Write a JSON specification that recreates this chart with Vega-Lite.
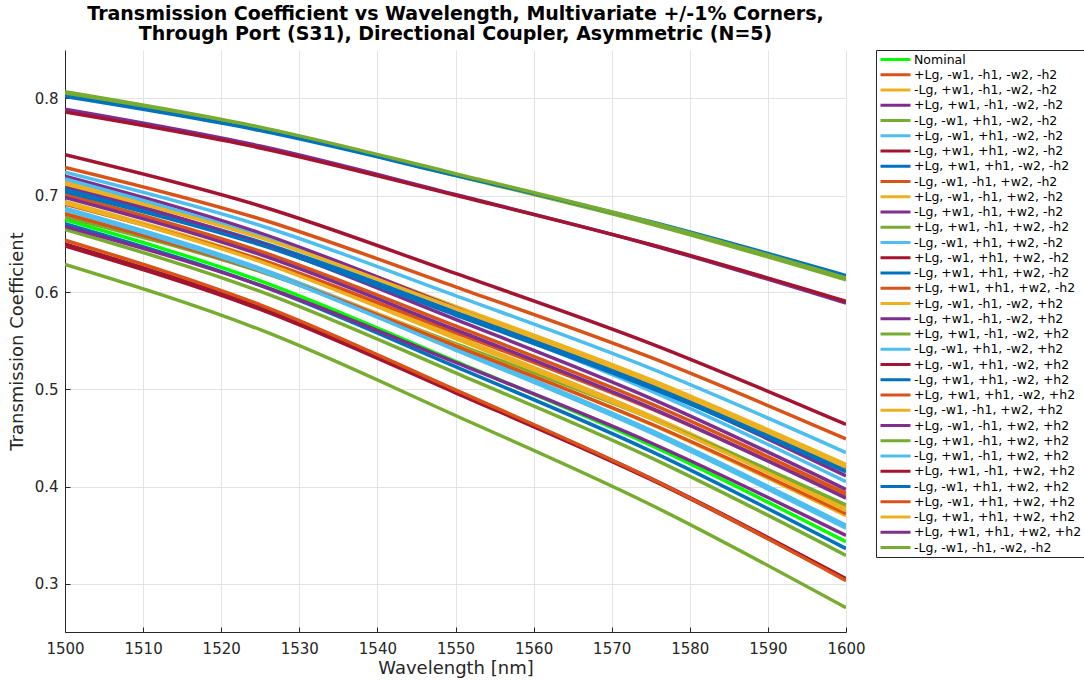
{
  "$schema": "https://vega.github.io/schema/vega-lite/v6.json",
  "autosize": {"type": "none"},
  "width": 781,
  "height": 582,
  "padding": {"left": 65, "top": 50, "right": 238, "bottom": 50},
  "background": "white",
  "title": {
    "text": ["Transmission Coefficient vs Wavelength, Multivariate +/-1% Corners,", "Through Port (S31), Directional Coupler, Asymmetric (N=5)"],
    "anchor": "middle",
    "frame": "group",
    "font": "DejaVu Sans",
    "fontSize": 19,
    "fontWeight": "bold",
    "color": "#000000",
    "lineHeight": 20,
    "offset": 6
  },
  "config": {
    "view": {"stroke": null},
    "axis": {
      "labelFont": "DejaVu Sans",
      "labelFontSize": 15,
      "labelColor": "#262626",
      "titleFont": "DejaVu Sans",
      "titleFontSize": 18,
      "titleFontWeight": "normal",
      "titleColor": "#262626",
      "domainColor": "#262626",
      "tickColor": "#262626",
      "gridColor": "#e3e3e3",
      "gridOpacity": 1,
      "labelFlush": false
    },
    "legend": {
      "labelFont": "DejaVu Sans",
      "labelFontSize": 12.5,
      "labelColor": "#000000"
    }
  },
  "data": {"values": [
    {"s":"Nominal","w":1500,"t":0.675},{"s":"Nominal","w":1525,"t":0.6119},{"s":"Nominal","w":1550,"t":0.5289},{"s":"Nominal","w":1575,"t":0.4426},{"s":"Nominal","w":1600,"t":0.343},
    {"s":"+Lg, -w1, -h1, -w2, -h2","w":1500,"t":0.729},{"s":"+Lg, -w1, -h1, -w2, -h2","w":1525,"t":0.6758},{"s":"+Lg, -w1, -h1, -w2, -h2","w":1550,"t":0.6058},{"s":"+Lg, -w1, -h1, -w2, -h2","w":1575,"t":0.533},{"s":"+Lg, -w1, -h1, -w2, -h2","w":1600,"t":0.449},
    {"s":"-Lg, +w1, -h1, -w2, -h2","w":1500,"t":0.714},{"s":"-Lg, +w1, -h1, -w2, -h2","w":1525,"t":0.6587},{"s":"-Lg, +w1, -h1, -w2, -h2","w":1550,"t":0.5858},{"s":"-Lg, +w1, -h1, -w2, -h2","w":1575,"t":0.5101},{"s":"-Lg, +w1, -h1, -w2, -h2","w":1600,"t":0.4227},
    {"s":"+Lg, +w1, -h1, -w2, -h2","w":1500,"t":0.789},{"s":"+Lg, +w1, -h1, -w2, -h2","w":1525,"t":0.751},{"s":"+Lg, +w1, -h1, -w2, -h2","w":1550,"t":0.701},{"s":"+Lg, +w1, -h1, -w2, -h2","w":1575,"t":0.649},{"s":"+Lg, +w1, -h1, -w2, -h2","w":1600,"t":0.589},
    {"s":"-Lg, -w1, +h1, -w2, -h2","w":1500,"t":0.805},{"s":"-Lg, -w1, +h1, -w2, -h2","w":1525,"t":0.7685},{"s":"-Lg, -w1, +h1, -w2, -h2","w":1550,"t":0.7205},{"s":"-Lg, -w1, +h1, -w2, -h2","w":1575,"t":0.6706},{"s":"-Lg, -w1, +h1, -w2, -h2","w":1600,"t":0.613},
    {"s":"+Lg, -w1, +h1, -w2, -h2","w":1500,"t":0.724},{"s":"+Lg, -w1, +h1, -w2, -h2","w":1525,"t":0.6691},{"s":"+Lg, -w1, +h1, -w2, -h2","w":1550,"t":0.5968},{"s":"+Lg, -w1, +h1, -w2, -h2","w":1575,"t":0.5217},{"s":"+Lg, -w1, +h1, -w2, -h2","w":1600,"t":0.435},
    {"s":"-Lg, +w1, +h1, -w2, -h2","w":1500,"t":0.786},{"s":"-Lg, +w1, +h1, -w2, -h2","w":1525,"t":0.749},{"s":"-Lg, +w1, +h1, -w2, -h2","w":1550,"t":0.7002},{"s":"-Lg, +w1, +h1, -w2, -h2","w":1575,"t":0.6495},{"s":"-Lg, +w1, +h1, -w2, -h2","w":1600,"t":0.591},
    {"s":"+Lg, +w1, +h1, -w2, -h2","w":1500,"t":0.802},{"s":"+Lg, +w1, +h1, -w2, -h2","w":1525,"t":0.7669},{"s":"+Lg, +w1, +h1, -w2, -h2","w":1550,"t":0.7208},{"s":"+Lg, +w1, +h1, -w2, -h2","w":1575,"t":0.6729},{"s":"+Lg, +w1, +h1, -w2, -h2","w":1600,"t":0.6175},
    {"s":"-Lg, -w1, -h1, +w2, -h2","w":1500,"t":0.701},{"s":"-Lg, -w1, -h1, +w2, -h2","w":1525,"t":0.6425},{"s":"-Lg, -w1, -h1, +w2, -h2","w":1550,"t":0.5655},{"s":"-Lg, -w1, -h1, +w2, -h2","w":1575,"t":0.4854},{"s":"-Lg, -w1, -h1, +w2, -h2","w":1600,"t":0.393},
    {"s":"+Lg, -w1, -h1, +w2, -h2","w":1500,"t":0.694},{"s":"+Lg, -w1, -h1, +w2, -h2","w":1525,"t":0.634},{"s":"+Lg, -w1, -h1, +w2, -h2","w":1550,"t":0.555},{"s":"+Lg, -w1, -h1, +w2, -h2","w":1575,"t":0.4728},{"s":"+Lg, -w1, -h1, +w2, -h2","w":1600,"t":0.378},
    {"s":"-Lg, +w1, -h1, +w2, -h2","w":1500,"t":0.720},{"s":"-Lg, +w1, -h1, +w2, -h2","w":1525,"t":0.6613},{"s":"-Lg, +w1, -h1, +w2, -h2","w":1550,"t":0.584},{"s":"-Lg, +w1, -h1, +w2, -h2","w":1575,"t":0.5037},{"s":"-Lg, +w1, -h1, +w2, -h2","w":1600,"t":0.411},
    {"s":"+Lg, +w1, -h1, +w2, -h2","w":1500,"t":0.678},{"s":"+Lg, +w1, -h1, +w2, -h2","w":1525,"t":0.6216},{"s":"+Lg, +w1, -h1, +w2, -h2","w":1550,"t":0.5473},{"s":"+Lg, +w1, -h1, +w2, -h2","w":1575,"t":0.4701},{"s":"+Lg, +w1, -h1, +w2, -h2","w":1600,"t":0.381},
    {"s":"-Lg, -w1, +h1, +w2, -h2","w":1500,"t":0.717},{"s":"-Lg, -w1, +h1, +w2, -h2","w":1525,"t":0.6577},{"s":"-Lg, -w1, +h1, +w2, -h2","w":1550,"t":0.5797},{"s":"-Lg, -w1, +h1, +w2, -h2","w":1575,"t":0.4986},{"s":"-Lg, -w1, +h1, +w2, -h2","w":1600,"t":0.405},
    {"s":"+Lg, -w1, +h1, +w2, -h2","w":1500,"t":0.742},{"s":"+Lg, -w1, +h1, +w2, -h2","w":1525,"t":0.6892},{"s":"+Lg, -w1, +h1, +w2, -h2","w":1550,"t":0.6197},{"s":"+Lg, -w1, +h1, +w2, -h2","w":1575,"t":0.5474},{"s":"+Lg, -w1, +h1, +w2, -h2","w":1600,"t":0.464},
    {"s":"-Lg, +w1, +h1, +w2, -h2","w":1500,"t":0.707},{"s":"-Lg, +w1, +h1, +w2, -h2","w":1525,"t":0.6521},{"s":"-Lg, +w1, +h1, +w2, -h2","w":1550,"t":0.5798},{"s":"-Lg, +w1, +h1, +w2, -h2","w":1575,"t":0.5047},{"s":"-Lg, +w1, +h1, +w2, -h2","w":1600,"t":0.418},
    {"s":"+Lg, +w1, +h1, +w2, -h2","w":1500,"t":0.691},{"s":"+Lg, +w1, +h1, +w2, -h2","w":1525,"t":0.6338},{"s":"+Lg, +w1, +h1, +w2, -h2","w":1550,"t":0.5586},{"s":"+Lg, +w1, +h1, +w2, -h2","w":1575,"t":0.4803},{"s":"+Lg, +w1, +h1, +w2, -h2","w":1600,"t":0.390},
    {"s":"+Lg, -w1, -h1, -w2, +h2","w":1500,"t":0.684},{"s":"+Lg, -w1, -h1, -w2, +h2","w":1525,"t":0.6243},{"s":"+Lg, -w1, -h1, -w2, +h2","w":1550,"t":0.5458},{"s":"+Lg, -w1, -h1, -w2, +h2","w":1575,"t":0.4642},{"s":"+Lg, -w1, -h1, -w2, +h2","w":1600,"t":0.370},
    {"s":"-Lg, +w1, -h1, -w2, +h2","w":1500,"t":0.710},{"s":"-Lg, +w1, -h1, -w2, +h2","w":1525,"t":0.6505},{"s":"-Lg, +w1, -h1, -w2, +h2","w":1550,"t":0.5723},{"s":"-Lg, +w1, -h1, -w2, +h2","w":1575,"t":0.4909},{"s":"-Lg, +w1, -h1, -w2, +h2","w":1600,"t":0.397},
    {"s":"+Lg, +w1, -h1, -w2, +h2","w":1500,"t":0.665},{"s":"+Lg, +w1, -h1, -w2, +h2","w":1525,"t":0.6012},{"s":"+Lg, +w1, -h1, -w2, +h2","w":1550,"t":0.5172},{"s":"+Lg, +w1, -h1, -w2, +h2","w":1575,"t":0.4298},{"s":"+Lg, +w1, -h1, -w2, +h2","w":1600,"t":0.329},
    {"s":"-Lg, -w1, +h1, -w2, +h2","w":1500,"t":0.687},{"s":"-Lg, -w1, +h1, -w2, +h2","w":1525,"t":0.6249},{"s":"-Lg, -w1, +h1, -w2, +h2","w":1550,"t":0.5431},{"s":"-Lg, -w1, +h1, -w2, +h2","w":1575,"t":0.4581},{"s":"-Lg, -w1, +h1, -w2, +h2","w":1600,"t":0.360},
    {"s":"+Lg, -w1, +h1, -w2, +h2","w":1500,"t":0.650},{"s":"+Lg, -w1, +h1, -w2, +h2","w":1525,"t":0.5845},{"s":"+Lg, -w1, +h1, -w2, +h2","w":1550,"t":0.4982},{"s":"+Lg, -w1, +h1, -w2, +h2","w":1575,"t":0.4085},{"s":"+Lg, -w1, +h1, -w2, +h2","w":1600,"t":0.305},
    {"s":"-Lg, +w1, +h1, -w2, +h2","w":1500,"t":0.704},{"s":"-Lg, +w1, +h1, -w2, +h2","w":1525,"t":0.6491},{"s":"-Lg, +w1, +h1, -w2, +h2","w":1550,"t":0.5768},{"s":"-Lg, +w1, +h1, -w2, +h2","w":1575,"t":0.5017},{"s":"-Lg, +w1, +h1, -w2, +h2","w":1600,"t":0.415},
    {"s":"+Lg, +w1, +h1, -w2, +h2","w":1500,"t":0.681},{"s":"+Lg, +w1, +h1, -w2, +h2","w":1525,"t":0.6223},{"s":"+Lg, +w1, +h1, -w2, +h2","w":1550,"t":0.545},{"s":"+Lg, +w1, +h1, -w2, +h2","w":1575,"t":0.4647},{"s":"+Lg, +w1, +h1, -w2, +h2","w":1600,"t":0.372},
    {"s":"-Lg, -w1, -h1, +w2, +h2","w":1500,"t":0.712},{"s":"-Lg, -w1, -h1, +w2, +h2","w":1525,"t":0.6565},{"s":"-Lg, -w1, -h1, +w2, +h2","w":1550,"t":0.5835},{"s":"-Lg, -w1, -h1, +w2, +h2","w":1575,"t":0.5076},{"s":"-Lg, -w1, -h1, +w2, +h2","w":1600,"t":0.420},
    {"s":"+Lg, -w1, -h1, +w2, +h2","w":1500,"t":0.698},{"s":"+Lg, -w1, -h1, +w2, +h2","w":1525,"t":0.6391},{"s":"+Lg, -w1, -h1, +w2, +h2","w":1550,"t":0.5616},{"s":"+Lg, -w1, -h1, +w2, +h2","w":1575,"t":0.481},{"s":"+Lg, -w1, -h1, +w2, +h2","w":1600,"t":0.388},
    {"s":"-Lg, +w1, -h1, +w2, +h2","w":1500,"t":0.629},{"s":"-Lg, +w1, -h1, +w2, +h2","w":1525,"t":0.5617},{"s":"-Lg, +w1, -h1, +w2, +h2","w":1550,"t":0.4732},{"s":"-Lg, +w1, -h1, +w2, +h2","w":1575,"t":0.3812},{"s":"-Lg, +w1, -h1, +w2, +h2","w":1600,"t":0.275},
    {"s":"-Lg, +w1, -h1, +w2, +h2 ","w":1500,"t":0.685},{"s":"-Lg, +w1, -h1, +w2, +h2 ","w":1525,"t":0.6227},{"s":"-Lg, +w1, -h1, +w2, +h2 ","w":1550,"t":0.5407},{"s":"-Lg, +w1, -h1, +w2, +h2 ","w":1575,"t":0.4554},{"s":"-Lg, +w1, -h1, +w2, +h2 ","w":1600,"t":0.357},
    {"s":"+Lg, +w1, -h1, +w2, +h2","w":1500,"t":0.648},{"s":"+Lg, +w1, -h1, +w2, +h2","w":1525,"t":0.5826},{"s":"+Lg, +w1, -h1, +w2, +h2","w":1550,"t":0.4966},{"s":"+Lg, +w1, -h1, +w2, +h2","w":1575,"t":0.4072},{"s":"+Lg, +w1, -h1, +w2, +h2","w":1600,"t":0.304},
    {"s":"-Lg, -w1, +h1, +w2, +h2","w":1500,"t":0.671},{"s":"-Lg, -w1, +h1, +w2, +h2","w":1525,"t":0.6074},{"s":"-Lg, -w1, +h1, +w2, +h2","w":1550,"t":0.5236},{"s":"-Lg, -w1, +h1, +w2, +h2","w":1575,"t":0.4365},{"s":"-Lg, -w1, +h1, +w2, +h2","w":1600,"t":0.336},
    {"s":"+Lg, -w1, +h1, +w2, +h2","w":1500,"t":0.654},{"s":"+Lg, -w1, +h1, +w2, +h2","w":1525,"t":0.5873},{"s":"+Lg, -w1, +h1, +w2, +h2","w":1550,"t":0.4996},{"s":"+Lg, -w1, +h1, +w2, +h2","w":1575,"t":0.4083},{"s":"+Lg, -w1, +h1, +w2, +h2","w":1600,"t":0.303},
    {"s":"-Lg, +w1, +h1, +w2, +h2","w":1500,"t":0.692},{"s":"-Lg, +w1, +h1, +w2, +h2","w":1525,"t":0.6318},{"s":"-Lg, +w1, +h1, +w2, +h2","w":1550,"t":0.5525},{"s":"-Lg, +w1, +h1, +w2, +h2","w":1575,"t":0.4701},{"s":"-Lg, +w1, +h1, +w2, +h2","w":1600,"t":0.375},
    {"s":"+Lg, +w1, +h1, +w2, +h2","w":1500,"t":0.668},{"s":"+Lg, +w1, +h1, +w2, +h2","w":1525,"t":0.6075},{"s":"+Lg, +w1, +h1, +w2, +h2","w":1550,"t":0.5279},{"s":"+Lg, +w1, +h1, +w2, +h2","w":1575,"t":0.4451},{"s":"+Lg, +w1, +h1, +w2, +h2","w":1600,"t":0.3495},
    {"s":"-Lg, -w1, -h1, -w2, -h2","w":1500,"t":0.807},{"s":"-Lg, -w1, -h1, -w2, -h2","w":1525,"t":0.7705},{"s":"-Lg, -w1, -h1, -w2, -h2","w":1550,"t":0.7225},{"s":"-Lg, -w1, -h1, -w2, -h2","w":1575,"t":0.6726},{"s":"-Lg, -w1, -h1, -w2, -h2","w":1600,"t":0.615}
  ]},
  "mark": {"type": "line", "strokeWidth": 3.5, "interpolate": "monotone", "clip": true},
  "encoding": {
    "x": {
      "field": "w", "type": "quantitative",
      "scale": {"domain": [1500, 1600], "nice": false},
      "axis": {"title": "Wavelength [nm]", "values": [1500,1510,1520,1530,1540,1550,1560,1570,1580,1590,1600], "format": "d", "tickSize": -5, "labelPadding": 14, "titlePadding": 3}
    },
    "y": {
      "field": "t", "type": "quantitative",
      "scale": {"domain": [0.25, 0.85], "nice": false, "zero": false},
      "axis": {"title": "Transmission Coefficient", "values": [0.3,0.4,0.5,0.6,0.7,0.8], "format": ".1f", "tickSize": -5, "labelPadding": 12, "titlePadding": 8}
    },
    "color": {
      "field": "s", "type": "nominal",
      "scale": {
        "domain": ["Nominal","+Lg, -w1, -h1, -w2, -h2","-Lg, +w1, -h1, -w2, -h2","+Lg, +w1, -h1, -w2, -h2","-Lg, -w1, +h1, -w2, -h2","+Lg, -w1, +h1, -w2, -h2","-Lg, +w1, +h1, -w2, -h2","+Lg, +w1, +h1, -w2, -h2","-Lg, -w1, -h1, +w2, -h2","+Lg, -w1, -h1, +w2, -h2","-Lg, +w1, -h1, +w2, -h2","+Lg, +w1, -h1, +w2, -h2","-Lg, -w1, +h1, +w2, -h2","+Lg, -w1, +h1, +w2, -h2","-Lg, +w1, +h1, +w2, -h2","+Lg, +w1, +h1, +w2, -h2","+Lg, -w1, -h1, -w2, +h2","-Lg, +w1, -h1, -w2, +h2","+Lg, +w1, -h1, -w2, +h2","-Lg, -w1, +h1, -w2, +h2","+Lg, -w1, +h1, -w2, +h2","-Lg, +w1, +h1, -w2, +h2","+Lg, +w1, +h1, -w2, +h2","-Lg, -w1, -h1, +w2, +h2","+Lg, -w1, -h1, +w2, +h2","-Lg, +w1, -h1, +w2, +h2","-Lg, +w1, -h1, +w2, +h2 ","+Lg, +w1, -h1, +w2, +h2","-Lg, -w1, +h1, +w2, +h2","+Lg, -w1, +h1, +w2, +h2","-Lg, +w1, +h1, +w2, +h2","+Lg, +w1, +h1, +w2, +h2","-Lg, -w1, -h1, -w2, -h2"],
        "range": ["#00FF00","#D95319","#EDB120","#7E2F8E","#77AC30","#4DBEEE","#A2142F","#0072BD","#D95319","#EDB120","#7E2F8E","#77AC30","#4DBEEE","#A2142F","#0072BD","#D95319","#EDB120","#7E2F8E","#77AC30","#4DBEEE","#A2142F","#0072BD","#D95319","#EDB120","#7E2F8E","#77AC30","#4DBEEE","#A2142F","#0072BD","#D95319","#EDB120","#7E2F8E","#77AC30"]
      },
      "legend": {
        "title": null,
        "orient": "none",
        "legendX": 811,
        "legendY": 0,
        "symbolType": "M-1,0H5",
        "symbolSize": 100,
        "symbolStrokeWidth": 3,
        "symbolLimit": 0,
        "labelOffset": 22,
        "rowPadding": 2.25,
        "padding": 3,
        "strokeColor": "#262626",
        "fillColor": "white",
        "labelLimit": 300,
        "columns": 1
      }
    }
  }
}
